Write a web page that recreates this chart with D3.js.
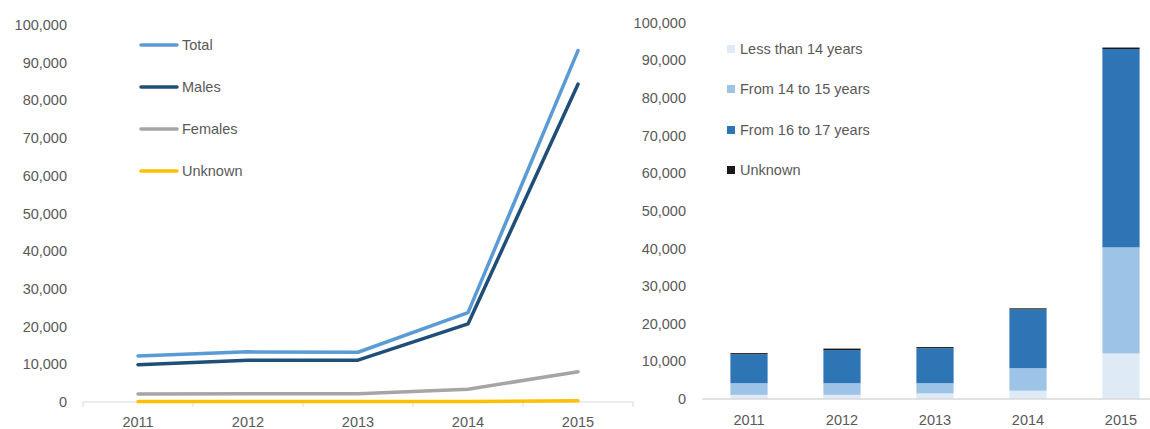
<!DOCTYPE html>
<html><head><meta charset="utf-8">
<script src="https://cdn.jsdelivr.net/npm/d3@7"></script>
<style>
html,body{margin:0;padding:0;background:#fff;}
svg{display:block;font-family:"Liberation Sans",Arial,sans-serif;}
</style></head>
<body>
<svg id="chart" width="1150" height="429"></svg>
<script>
const years = ["2011","2012","2013","2014","2015"];
const yTicks = [0,10000,20000,30000,40000,50000,60000,70000,80000,90000,100000];

// Left chart: line series
const lineNames = ["Total","Males","Females","Unknown"];
const totalVals   = [12200, 13300, 13200, 23700, 93200];
const malesVals   = [9900, 11100, 11100, 20700, 84300];
const femalesVals = [2100, 2200, 2200, 3400, 8000];
const unknownVals = [100, 100, 100, 100, 300];
const lineColors = ["#5b9bd5","#1f4e79","#a5a5a5","#ffc000"];

// Right chart: stacked bars by age group
const ageNames = ["Less than 14 years","From 14 to 15 years","From 16 to 17 years","Unknown"];
const under14  = [1100, 1100, 1500, 2200, 12100];
const age14_15 = [3100, 3100, 2700, 6000, 28200];
const age16_17 = [7700, 8800, 9300, 15600, 52700];
const ageUnk   = [300, 400, 300, 300, 400];
const barColors = ["#deebf7","#9dc3e6","#2e75b6","#1a1a1a"];

const svg = d3.select("#chart");
const textColor = "#595959";
const fs = 14.5;
const fmt = d3.format(",");

// ---------- Left chart ----------
(function(){
  const x0 = 83, x1 = 633, yTop = 25, yBot = 402;
  const x = d3.scaleBand().domain(years).range([x0, x1]);
  const y = d3.scaleLinear().domain([0,100000]).range([yBot, yTop]);
  const g = svg.append("g");

  g.selectAll("text.yl").data(yTicks).join("text")
    .attr("x", 67).attr("y", d => y(d)).attr("dy","0.35em")
    .attr("text-anchor","end").attr("font-size",fs).attr("fill",textColor)
    .text(d => fmt(d));

  g.append("line").attr("x1",x0).attr("x2",x1).attr("y1",yBot).attr("y2",yBot)
    .attr("stroke","#d9d9d9").attr("stroke-width",1);
  const bounds = years.map(d => x(d)).concat([x1]);
  g.selectAll("line.tk").data(bounds).join("line")
    .attr("x1",d=>d).attr("x2",d=>d).attr("y1",yBot).attr("y2",yBot+5)
    .attr("stroke","#d9d9d9");
  g.selectAll("text.xl").data(years).join("text")
    .attr("x", d => x(d)+x.bandwidth()/2).attr("y", 422).attr("dy","0.35em")
    .attr("text-anchor","middle").attr("font-size",fs).attr("fill",textColor)
    .text(d=>d);

  const series = [totalVals, malesVals, femalesVals, unknownVals];
  const line = d3.line().x((d,i)=>x(years[i])+x.bandwidth()/2).y(d=>y(d));
  [3,2,1,0].forEach(k=>{
    g.append("path").datum(series[k]).attr("d", line)
      .attr("fill","none").attr("stroke", lineColors[k]).attr("stroke-width",3.5)
      .attr("stroke-linejoin","round").attr("stroke-linecap","round");
  });

  const legY = [45, 87, 129, 171];
  lineNames.forEach((n,i)=>{
    g.append("line").attr("x1",141).attr("x2",177).attr("y1",legY[i]).attr("y2",legY[i])
      .attr("stroke",lineColors[i]).attr("stroke-width",3.5).attr("stroke-linecap","round");
    g.append("text").attr("x",182).attr("y",legY[i]).attr("dy","0.35em")
      .attr("font-size",fs).attr("fill",textColor).text(n);
  });
})();

// ---------- Right chart ----------
(function(){
  const x0 = 702.5, x1 = 1167.5, yTop = 22.7, yBot = 399;
  const x = d3.scaleBand().domain(years).range([x0, x1]).paddingInner(0.6).paddingOuter(0.3);
  const y = d3.scaleLinear().domain([0,100000]).range([yBot, yTop]);
  const g = svg.append("g");

  g.selectAll("text.yl").data(yTicks).join("text")
    .attr("x", 686).attr("y", d => y(d)).attr("dy","0.35em")
    .attr("text-anchor","end").attr("font-size",fs).attr("fill",textColor)
    .text(d => fmt(d));

  const rows = years.map((yr,i)=>({year:yr, a:under14[i], b:age14_15[i], c:age16_17[i], d:ageUnk[i]}));
  const stack = d3.stack().keys(["a","b","c","d"])(rows);
  stack.forEach((layer,k)=>{
    g.selectAll(null).data(layer).join("rect")
      .attr("x", d => x(d.data.year))
      .attr("width", x.bandwidth())
      .attr("y", d => y(d[1]))
      .attr("height", d => y(d[0]) - y(d[1]))
      .attr("fill", barColors[k]);
  });

  g.append("line").attr("x1",x0).attr("x2",x1).attr("y1",yBot).attr("y2",yBot)
    .attr("stroke","#d9d9d9").attr("stroke-width",1.5);
  g.selectAll("text.xl").data(years).join("text")
    .attr("x", d => x(d)+x.bandwidth()/2).attr("y", 420).attr("dy","0.35em")
    .attr("text-anchor","middle").attr("font-size",fs).attr("fill",textColor)
    .text(d=>d);

  const legY = [49, 89, 130, 170];
  ageNames.forEach((n,i)=>{
    g.append("rect").attr("x",727).attr("y",legY[i]-4).attr("width",8).attr("height",8)
      .attr("fill",barColors[i]);
    g.append("text").attr("x",740).attr("y",legY[i]).attr("dy","0.35em")
      .attr("font-size",fs).attr("fill",textColor).text(n);
  });
})();
</script>
</body></html>
